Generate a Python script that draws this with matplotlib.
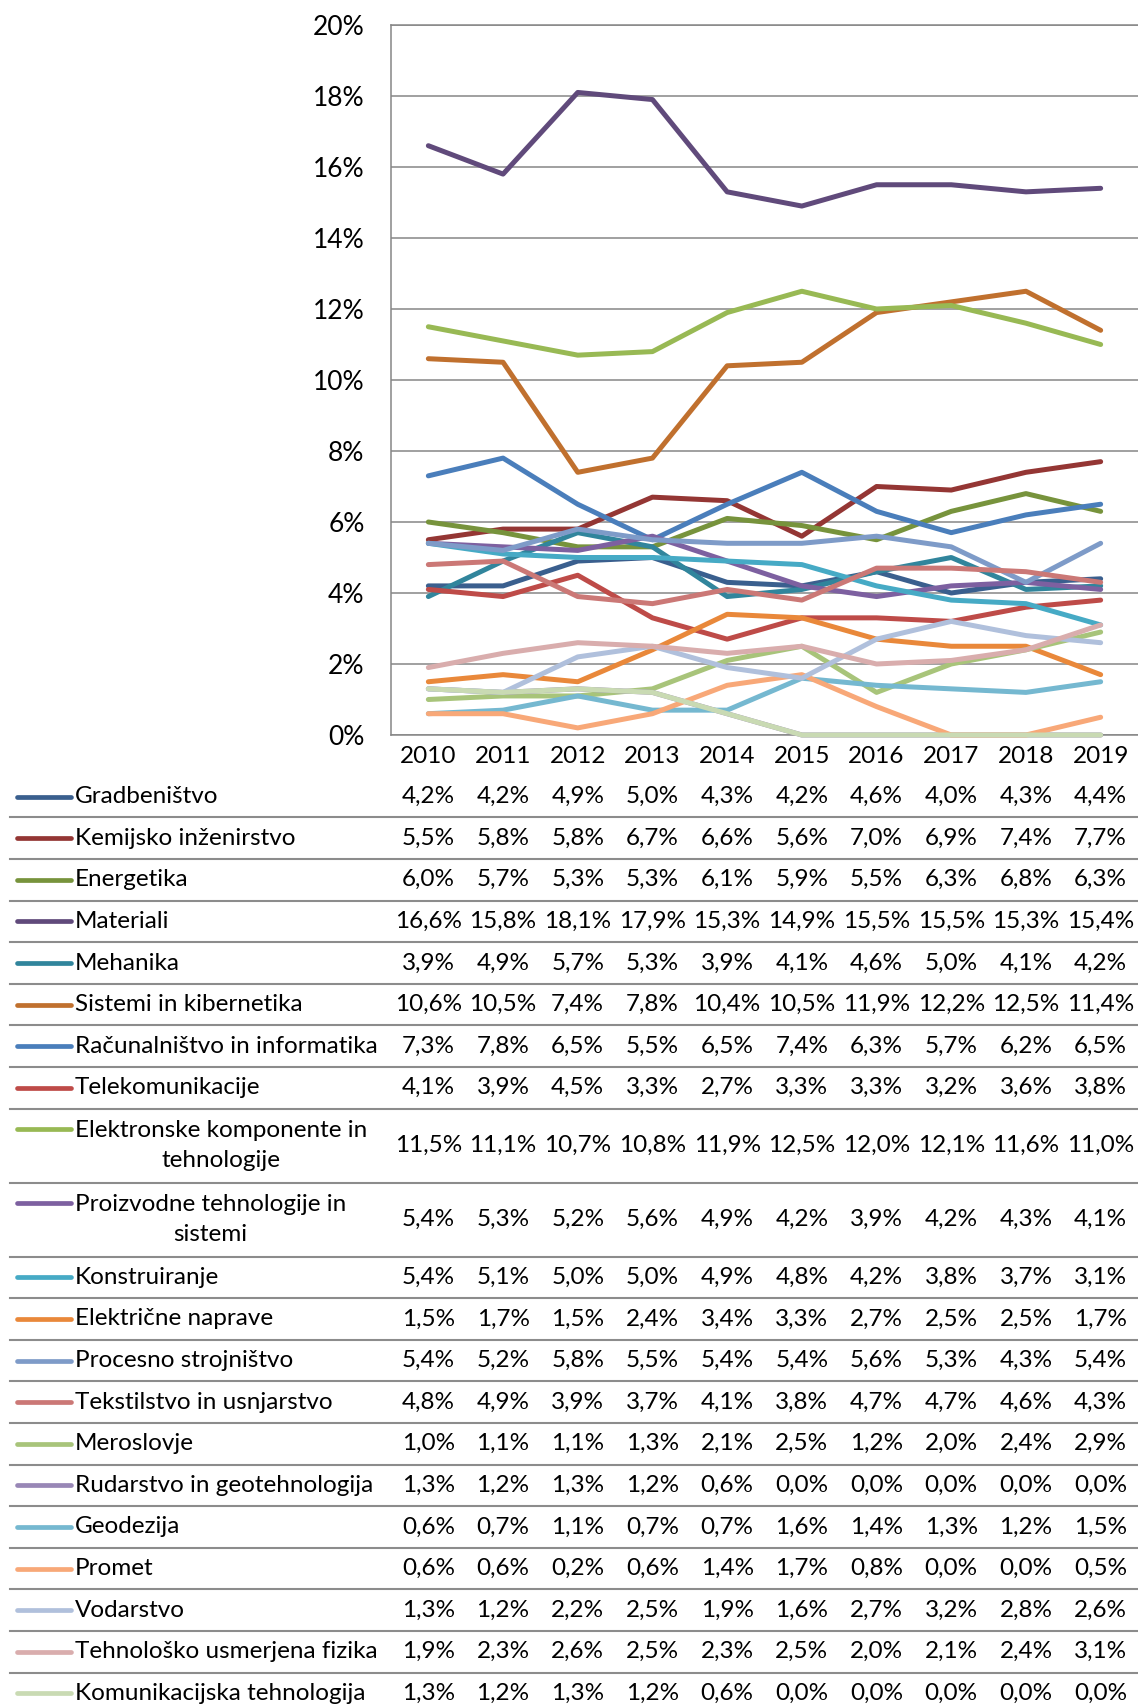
import matplotlib
matplotlib.use("Agg")
import matplotlib.pyplot as plt
from matplotlib.transforms import blended_transform_factory
from matplotlib.ticker import FuncFormatter

plt.rcParams['font.family'] = ['Lato', 'DejaVu Sans']

years = ['2010', '2011', '2012', '2013', '2014', '2015', '2016', '2017', '2018', '2019']

labels = [
    'Gradbeništvo',
    'Kemijsko inženirstvo',
    'Energetika',
    'Materiali',
    'Mehanika',
    'Sistemi in kibernetika',
    'Računalništvo in informatika',
    'Telekomunikacije',
    'Elektronske komponente in\ntehnologije',
    'Proizvodne tehnologije in\nsistemi',
    'Konstruiranje',
    'Električne naprave',
    'Procesno strojništvo',
    'Tekstilstvo in usnjarstvo',
    'Meroslovje',
    'Rudarstvo in geotehnologija',
    'Geodezija',
    'Promet',
    'Vodarstvo',
    'Tehnološko usmerjena fizika',
    'Komunikacijska tehnologija',
]

gradbenistvo = [4.2, 4.2, 4.9, 5.0, 4.3, 4.2, 4.6, 4.0, 4.3, 4.4]
kemijsko = [5.5, 5.8, 5.8, 6.7, 6.6, 5.6, 7.0, 6.9, 7.4, 7.7]
energetika = [6.0, 5.7, 5.3, 5.3, 6.1, 5.9, 5.5, 6.3, 6.8, 6.3]
materiali = [16.6, 15.8, 18.1, 17.9, 15.3, 14.9, 15.5, 15.5, 15.3, 15.4]
mehanika = [3.9, 4.9, 5.7, 5.3, 3.9, 4.1, 4.6, 5.0, 4.1, 4.2]
sistemi = [10.6, 10.5, 7.4, 7.8, 10.4, 10.5, 11.9, 12.2, 12.5, 11.4]
racunalnistvo = [7.3, 7.8, 6.5, 5.5, 6.5, 7.4, 6.3, 5.7, 6.2, 6.5]
telekom = [4.1, 3.9, 4.5, 3.3, 2.7, 3.3, 3.3, 3.2, 3.6, 3.8]
elektronske = [11.5, 11.1, 10.7, 10.8, 11.9, 12.5, 12.0, 12.1, 11.6, 11.0]
proizvodne = [5.4, 5.3, 5.2, 5.6, 4.9, 4.2, 3.9, 4.2, 4.3, 4.1]
konstruiranje = [5.4, 5.1, 5.0, 5.0, 4.9, 4.8, 4.2, 3.8, 3.7, 3.1]
elektricne = [1.5, 1.7, 1.5, 2.4, 3.4, 3.3, 2.7, 2.5, 2.5, 1.7]
procesno = [5.4, 5.2, 5.8, 5.5, 5.4, 5.4, 5.6, 5.3, 4.3, 5.4]
tekstilstvo = [4.8, 4.9, 3.9, 3.7, 4.1, 3.8, 4.7, 4.7, 4.6, 4.3]
meroslovje = [1.0, 1.1, 1.1, 1.3, 2.1, 2.5, 1.2, 2.0, 2.4, 2.9]
rudarstvo = [1.3, 1.2, 1.3, 1.2, 0.6, 0.0, 0.0, 0.0, 0.0, 0.0]
geodezija = [0.6, 0.7, 1.1, 0.7, 0.7, 1.6, 1.4, 1.3, 1.2, 1.5]
promet = [0.6, 0.6, 0.2, 0.6, 1.4, 1.7, 0.8, 0.0, 0.0, 0.5]
vodarstvo = [1.3, 1.2, 2.2, 2.5, 1.9, 1.6, 2.7, 3.2, 2.8, 2.6]
fizika = [1.9, 2.3, 2.6, 2.5, 2.3, 2.5, 2.0, 2.1, 2.4, 3.1]
komunikacijska = [1.3, 1.2, 1.3, 1.2, 0.6, 0.0, 0.0, 0.0, 0.0, 0.0]

series = [gradbenistvo, kemijsko, energetika, materiali, mehanika, sistemi,
          racunalnistvo, telekom, elektronske, proizvodne, konstruiranje, elektricne,
          procesno, tekstilstvo, meroslovje, rudarstvo, geodezija, promet,
          vodarstvo, fizika, komunikacijska]

colors = ['#3A5F8E', '#943634', '#77933C', '#604A7B', '#31859C', '#C0702E',
          '#4A7EBB', '#BE4B48', '#98B954', '#7D60A0', '#46AAC5', '#E9883A',
          '#7E9BC8', '#CB7876', '#A8C47A', '#9887B6', '#75B8D0', '#F8A878',
          '#B0C0DC', '#D9ADAD', '#C9DAB3']

W, H = 1138, 1704
fig = plt.figure(figsize=(W / 100, H / 100), dpi=100)
fs = 17.5

left, right, top, bottom = 391, 1138, 25, 735
ax = fig.add_axes([left / W, 1 - bottom / H, (right - left) / W, (bottom - top) / H])
x = list(range(len(years)))
for vals, c in zip(series, colors):
    ax.plot(x, vals, color=c, lw=3.6, solid_capstyle='round', solid_joinstyle='round',
            zorder=3, clip_on=False)

grid_c = '#868686'
ax.set_xlim(-0.5, len(years) - 0.5)
ax.set_ylim(0, 20)
ax.set_yticks(range(0, 21, 2))
ax.yaxis.set_major_formatter(FuncFormatter(lambda v, p: f'{v:.0f}%'))
ax.set_xticks(x)
ax.set_xticklabels(years)
ax.tick_params(axis='both', length=0, colors='black')
ax.tick_params(axis='y', pad=19, labelsize=19)
ax.tick_params(axis='x', pad=8, labelsize=fs)
ax.grid(axis='y', color=grid_c, lw=1.1)
ax.set_axisbelow(True)
ax.spines['right'].set_visible(False)
for s in ['left', 'bottom', 'top']:
    ax.spines[s].set_color(grid_c)
    ax.spines[s].set_linewidth(1.1)

# data table drawn in figure pixel coordinates
tab = fig.add_axes([0, 0, 1, 1])
tab.set_xlim(0, W)
tab.set_ylim(H, 0)
tab.axis('off')
cols = blended_transform_factory(ax.transData, tab.transData)

row_h1, row_h2 = 41.6, 74.0
y0 = 775.8
sep_c = '#8C8C8C'
for i, (lab, vals, c) in enumerate(zip(labels, series, colors)):
    two = '\n' in lab
    h = row_h2 if two else row_h1
    yc = y0 + h / 2
    ly = yc - 16.3 if two else yc
    tab.plot([17, 71], [ly, ly], color=c, lw=3.4, solid_capstyle='round')
    tab.text(75, yc, lab, ha='left', va='center', multialignment='center',
             fontsize=fs, linespacing=1.55)
    for j, v in enumerate(vals):
        tab.text(j, yc, f'{v:.1f}%'.replace('.', ','), transform=cols,
                 ha='center', va='center', fontsize=fs)
    y0 += h
    if i < len(labels) - 1:
        tab.plot([10, W], [y0, y0], color=sep_c, lw=1.5)

fig.savefig('out.png', dpi=100)
